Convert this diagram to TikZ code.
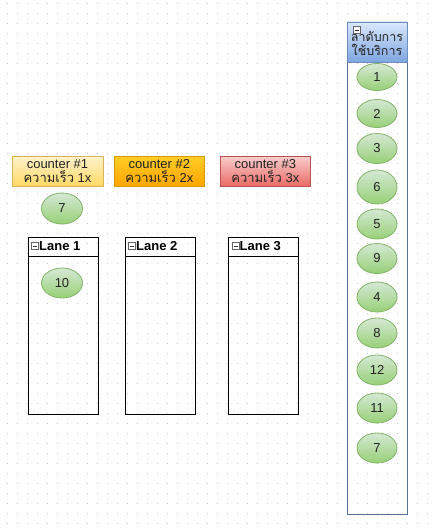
\documentclass[tikz,border=0pt]{standalone}
\usepackage{fontspec}
\setmainfont{Liberation Sans}
\newfontfamily\thaifont[Script=Thai]{Loma}
\usetikzlibrary{shapes.geometric}
\definecolor{dotc}{HTML}{C8C8C8}
\definecolor{yTop}{HTML}{FFF2CC}\definecolor{yBot}{HTML}{FFD966}\definecolor{yLine}{HTML}{D6B656}
\definecolor{oTop}{HTML}{FFCD28}\definecolor{oBot}{HTML}{FFA500}\definecolor{oLine}{HTML}{D79B00}
\definecolor{rTop}{HTML}{F8CECC}\definecolor{rBot}{HTML}{EA6B66}\definecolor{rLine}{HTML}{B85450}
\definecolor{gTop}{HTML}{D5E8D4}\definecolor{gBot}{HTML}{97D077}\definecolor{gLine}{HTML}{82B366}
\definecolor{bTop}{HTML}{DAE8FC}\definecolor{bBot}{HTML}{7EA6E0}\definecolor{bLine}{HTML}{6C8EBF}
\definecolor{txt}{HTML}{222222}
\begin{document}
\begin{tikzpicture}[x=1pt,y=-1pt,
  counterbox/.style={rectangle, draw, line width=0.8pt, minimum width=91pt, minimum height=30pt,
    align=center, inner sep=1pt, font=\fontsize{13}{14.5}\selectfont, text=txt},
  ell/.style={ellipse, draw=gLine, line width=0.8pt, top color=gTop, bottom color=gBot,
    minimum width=40pt, minimum height=29pt, inner sep=0pt, font=\fontsize{13}{14}\selectfont, text=txt},
  lanebox/.style={rectangle, draw=black, line width=1.1pt, minimum width=70pt, minimum height=177pt,
    anchor=north west, inner sep=0pt},
  lanetitle/.style={anchor=west, inner sep=0pt, font=\bfseries\fontsize{13}{14}\selectfont},
  iconbox/.style={rectangle, draw=black!60, line width=0.5pt, fill=white, minimum size=7pt, inner sep=0pt,
    path picture={\draw[line width=0.6pt,black!80] ([xshift=1.5pt]path picture bounding box.west) -- ([xshift=-1.5pt]path picture bounding box.east);}}
]
\useasboundingbox (0,0) rectangle (433,528);
\fill[white] (0,0) rectangle (433,528);
\foreach \gx in {7,17,...,427}{
  \foreach \gy in {3,13,...,523}{
    \fill[dotc] (\gx,\gy) rectangle ++(1,1);
  }
}
% counters
\node[counterbox, draw=yLine, top color=yTop, bottom color=yBot] (c1) at (57.5,171)
  {counter \#1\\{\thaifont ความเร็ว} 1x};
\node[counterbox, draw=oLine, top color=oTop, bottom color=oBot, minimum width=90pt] (c2) at (159.3,171)
  {counter \#2\\{\thaifont ความเร็ว} 2x};
\node[counterbox, draw=rLine, top color=rTop, bottom color=rBot, minimum width=90pt] (c3) at (265.3,171)
  {counter \#3\\{\thaifont ความเร็ว} 3x};
\node[ell, minimum width=41pt, minimum height=31pt] (e7) at (62,208.5) {7};
% lanes
\node[lanebox] (lane1) at (27.5,236.5) {};
\node[lanebox] (lane2) at (124.5,236.5) {};
\node[lanebox] (lane3) at (228,236.5) {};
\foreach \L in {lane1,lane2,lane3}{
  \draw[line width=1.1pt] ([yshift=-20pt]\L.north west) -- ([yshift=-20pt]\L.north east);
}
\node[iconbox] (i1) at (35,246) {};
\node[lanetitle] (t1) at (39,246.5) {Lane 1};
\node[iconbox] (i2) at (132,246) {};
\node[lanetitle] (t2) at (136,246.5) {Lane 2};
\node[iconbox] (i3) at (235.5,246) {};
\node[lanetitle] (t3) at (239.5,246.5) {Lane 3};
\node[ell, minimum width=41pt, minimum height=30pt] (e10) at (62,283) {10};
% pool
\node[rectangle, draw=bLine!80!black, line width=0.8pt, minimum width=60pt, minimum height=492pt,
  anchor=north west, inner sep=0pt] (pool) at (347.3,21.5) {};
\node[rectangle, draw=bLine, line width=0.8pt, top color=bTop, bottom color=bBot, minimum width=60pt,
  minimum height=40pt, anchor=north west, inner sep=0pt] (phead) at (347.3,21.5) {};
\node[align=center, inner sep=0pt, font=\thaifont\fontsize{12.5}{14}\selectfont, text=txt] (ptitle) at (377,43)
  {ลำดับการ\\ใช้บริการ};
\node[iconbox] (pi) at (356.5,30) {};
% queue
\node[ell, minimum height=27pt] (q1) at (377,77) {1};
\node[ell, minimum height=28pt] (q2) at (377,113.5) {2};
\node[ell, minimum height=30pt] (q3) at (377,148.5) {3};
\node[ell, minimum height=34pt] (q6) at (377,187) {6};
\node[ell, minimum height=30pt] (q5) at (377,224) {5};
\node[ell, minimum height=30pt] (q9) at (377,258.5) {9};
\node[ell, minimum height=30pt] (q4) at (377,297) {4};
\node[ell, minimum height=30pt] (q8) at (377,333) {8};
\node[ell, minimum height=30pt] (q12) at (377,370) {12};
\node[ell, minimum height=30pt] (q11) at (377,408) {11};
\node[ell, minimum height=30pt] (q7) at (377,448) {7};
\end{tikzpicture}
\end{document}
